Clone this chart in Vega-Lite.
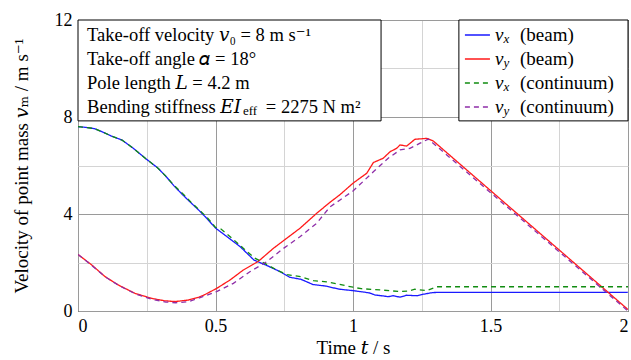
{
  "$schema": "https://vega.github.io/schema/vega-lite/v6.json",
  "width": 550,
  "height": 291,
  "autosize": {"type": "none"},
  "padding": {"left": 78, "top": 20, "right": 3, "bottom": 49},
  "background": "white",
  "config": {
    "font": "Liberation Serif, DejaVu Serif, serif",
    "text": {"font": "Liberation Serif, DejaVu Serif, serif", "color": "black"},
    "view": {"stroke": "black", "strokeWidth": 1},
    "axis": {"labelFont": "Liberation Serif, DejaVu Serif, serif", "titleFont": "Liberation Serif, DejaVu Serif, serif", "labelFontSize": 18, "titleFontSize": 19, "titleFontWeight": "normal", "labelColor": "black", "titleColor": "black", "ticks": false, "domain": false}
  },
  "datasets": {
    "curves": [
      {"t": 0, "v": 7.6, "s": "vx_beam"}, {"t": 0.03, "v": 7.57, "s": "vx_beam"}, {"t": 0.06, "v": 7.52, "s": "vx_beam"}, {"t": 0.09, "v": 7.38, "s": "vx_beam"}, {"t": 0.12, "v": 7.22, "s": "vx_beam"}, {"t": 0.16, "v": 7.05, "s": "vx_beam"}, {"t": 0.2, "v": 6.72, "s": "vx_beam"}, {"t": 0.25, "v": 6.25, "s": "vx_beam"}, {"t": 0.29, "v": 5.9, "s": "vx_beam"}, {"t": 0.32, "v": 5.55, "s": "vx_beam"}, {"t": 0.35, "v": 5.15, "s": "vx_beam"}, {"t": 0.38, "v": 4.8, "s": "vx_beam"}, {"t": 0.41, "v": 4.47, "s": "vx_beam"}, {"t": 0.44, "v": 4.15, "s": "vx_beam"}, {"t": 0.47, "v": 3.8, "s": "vx_beam"}, {"t": 0.5, "v": 3.42, "s": "vx_beam"}, {"t": 0.54, "v": 3.08, "s": "vx_beam"}, {"t": 0.59, "v": 2.65, "s": "vx_beam"}, {"t": 0.64, "v": 2.1, "s": "vx_beam"}, {"t": 0.69, "v": 1.86, "s": "vx_beam"}, {"t": 0.735, "v": 1.62, "s": "vx_beam"}, {"t": 0.77, "v": 1.39, "s": "vx_beam"}, {"t": 0.81, "v": 1.31, "s": "vx_beam"}, {"t": 0.855, "v": 1.09, "s": "vx_beam"}, {"t": 0.9, "v": 1.03, "s": "vx_beam"}, {"t": 0.95, "v": 0.9, "s": "vx_beam"}, {"t": 1.0, "v": 0.84, "s": "vx_beam"}, {"t": 1.04, "v": 0.78, "s": "vx_beam"}, {"t": 1.062, "v": 0.74, "s": "vx_beam"}, {"t": 1.08, "v": 0.66, "s": "vx_beam"}, {"t": 1.11, "v": 0.62, "s": "vx_beam"}, {"t": 1.128, "v": 0.59, "s": "vx_beam"}, {"t": 1.146, "v": 0.63, "s": "vx_beam"}, {"t": 1.171, "v": 0.57, "s": "vx_beam"}, {"t": 1.195, "v": 0.65, "s": "vx_beam"}, {"t": 1.232, "v": 0.63, "s": "vx_beam"}, {"t": 1.26, "v": 0.7, "s": "vx_beam"}, {"t": 1.29, "v": 0.76, "s": "vx_beam"}, {"t": 1.32, "v": 0.77, "s": "vx_beam"}, {"t": 2.0, "v": 0.77, "s": "vx_beam"},
      {"t": 0, "v": 2.33, "s": "vy_beam"}, {"t": 0.05, "v": 1.9, "s": "vy_beam"}, {"t": 0.098, "v": 1.42, "s": "vy_beam"}, {"t": 0.147, "v": 1.07, "s": "vy_beam"}, {"t": 0.207, "v": 0.73, "s": "vy_beam"}, {"t": 0.268, "v": 0.52, "s": "vy_beam"}, {"t": 0.316, "v": 0.42, "s": "vy_beam"}, {"t": 0.353, "v": 0.39, "s": "vy_beam"}, {"t": 0.401, "v": 0.45, "s": "vy_beam"}, {"t": 0.44, "v": 0.57, "s": "vy_beam"}, {"t": 0.462, "v": 0.68, "s": "vy_beam"}, {"t": 0.504, "v": 0.93, "s": "vy_beam"}, {"t": 0.553, "v": 1.28, "s": "vy_beam"}, {"t": 0.601, "v": 1.69, "s": "vy_beam"}, {"t": 0.656, "v": 2.05, "s": "vy_beam"}, {"t": 0.71, "v": 2.58, "s": "vy_beam"}, {"t": 0.759, "v": 3.0, "s": "vy_beam"}, {"t": 0.807, "v": 3.41, "s": "vy_beam"}, {"t": 0.868, "v": 4.03, "s": "vy_beam"}, {"t": 0.916, "v": 4.48, "s": "vy_beam"}, {"t": 0.953, "v": 4.8, "s": "vy_beam"}, {"t": 1.0, "v": 5.27, "s": "vy_beam"}, {"t": 1.05, "v": 5.68, "s": "vy_beam"}, {"t": 1.074, "v": 6.12, "s": "vy_beam"}, {"t": 1.11, "v": 6.3, "s": "vy_beam"}, {"t": 1.135, "v": 6.57, "s": "vy_beam"}, {"t": 1.159, "v": 6.71, "s": "vy_beam"}, {"t": 1.171, "v": 6.85, "s": "vy_beam"}, {"t": 1.195, "v": 6.8, "s": "vy_beam"}, {"t": 1.225, "v": 7.08, "s": "vy_beam"}, {"t": 1.268, "v": 7.12, "s": "vy_beam"}, {"t": 1.292, "v": 7.01, "s": "vy_beam"}, {"t": 2.0, "v": 0.06, "s": "vy_beam"},
      {"t": 0, "v": 7.6, "s": "vx_cont"}, {"t": 0.03, "v": 7.57, "s": "vx_cont"}, {"t": 0.06, "v": 7.52, "s": "vx_cont"}, {"t": 0.09, "v": 7.38, "s": "vx_cont"}, {"t": 0.12, "v": 7.22, "s": "vx_cont"}, {"t": 0.16, "v": 7.05, "s": "vx_cont"}, {"t": 0.2, "v": 6.72, "s": "vx_cont"}, {"t": 0.25, "v": 6.25, "s": "vx_cont"}, {"t": 0.29, "v": 5.9, "s": "vx_cont"}, {"t": 0.32, "v": 5.55, "s": "vx_cont"}, {"t": 0.35, "v": 5.17, "s": "vx_cont"}, {"t": 0.38, "v": 4.85, "s": "vx_cont"}, {"t": 0.41, "v": 4.5, "s": "vx_cont"}, {"t": 0.44, "v": 4.18, "s": "vx_cont"}, {"t": 0.47, "v": 3.85, "s": "vx_cont"}, {"t": 0.5, "v": 3.45, "s": "vx_cont"}, {"t": 0.52, "v": 3.38, "s": "vx_cont"}, {"t": 0.565, "v": 2.95, "s": "vx_cont"}, {"t": 0.6, "v": 2.6, "s": "vx_cont"}, {"t": 0.64, "v": 2.2, "s": "vx_cont"}, {"t": 0.686, "v": 1.92, "s": "vx_cont"}, {"t": 0.723, "v": 1.69, "s": "vx_cont"}, {"t": 0.76, "v": 1.5, "s": "vx_cont"}, {"t": 0.81, "v": 1.42, "s": "vx_cont"}, {"t": 0.856, "v": 1.25, "s": "vx_cont"}, {"t": 0.904, "v": 1.2, "s": "vx_cont"}, {"t": 0.95, "v": 1.1, "s": "vx_cont"}, {"t": 1.0, "v": 0.98, "s": "vx_cont"}, {"t": 1.03, "v": 0.92, "s": "vx_cont"}, {"t": 1.098, "v": 0.87, "s": "vx_cont"}, {"t": 1.171, "v": 0.8, "s": "vx_cont"}, {"t": 1.2, "v": 0.82, "s": "vx_cont"}, {"t": 1.225, "v": 0.9, "s": "vx_cont"}, {"t": 1.268, "v": 0.84, "s": "vx_cont"}, {"t": 1.305, "v": 1.0, "s": "vx_cont"}, {"t": 2.0, "v": 1.0, "s": "vx_cont"},
      {"t": 0, "v": 2.33, "s": "vy_cont"}, {"t": 0.05, "v": 1.88, "s": "vy_cont"}, {"t": 0.1, "v": 1.4, "s": "vy_cont"}, {"t": 0.15, "v": 1.04, "s": "vy_cont"}, {"t": 0.21, "v": 0.7, "s": "vy_cont"}, {"t": 0.27, "v": 0.48, "s": "vy_cont"}, {"t": 0.32, "v": 0.37, "s": "vy_cont"}, {"t": 0.355, "v": 0.34, "s": "vy_cont"}, {"t": 0.4, "v": 0.38, "s": "vy_cont"}, {"t": 0.444, "v": 0.55, "s": "vy_cont"}, {"t": 0.504, "v": 0.8, "s": "vy_cont"}, {"t": 0.565, "v": 1.14, "s": "vy_cont"}, {"t": 0.625, "v": 1.62, "s": "vy_cont"}, {"t": 0.686, "v": 2.03, "s": "vy_cont"}, {"t": 0.747, "v": 2.58, "s": "vy_cont"}, {"t": 0.807, "v": 3.06, "s": "vy_cont"}, {"t": 0.868, "v": 3.62, "s": "vy_cont"}, {"t": 0.916, "v": 4.29, "s": "vy_cont"}, {"t": 0.953, "v": 4.58, "s": "vy_cont"}, {"t": 1.0, "v": 4.95, "s": "vy_cont"}, {"t": 1.074, "v": 5.74, "s": "vy_cont"}, {"t": 1.128, "v": 6.3, "s": "vy_cont"}, {"t": 1.171, "v": 6.64, "s": "vy_cont"}, {"t": 1.207, "v": 6.71, "s": "vy_cont"}, {"t": 1.244, "v": 6.92, "s": "vy_cont"}, {"t": 1.274, "v": 7.09, "s": "vy_cont"}, {"t": 2.0, "v": 0.0, "s": "vy_cont"}
    ],
    "legend": [
      {"s": "vx_beam", "sub": "x", "label": "(beam)", "row": 1},
      {"s": "vy_beam", "sub": "y", "label": "(beam)", "row": 2},
      {"s": "vx_cont", "sub": "x", "label": "(continuum)", "row": 3},
      {"s": "vy_cont", "sub": "y", "label": "(continuum)", "row": 4}
    ]
  },
  "layer": [
    {
      "layer": [
        {
          "data": {"name": "curves"},
          "mark": {"type": "line", "strokeWidth": 1.3, "clip": true},
          "encoding": {
            "x": {"field": "t", "type": "quantitative", "scale": {"domain": [0, 2], "nice": false}, "axis": {"title": "Time 𝑡 / s", "values": [0, 0.25, 0.5, 0.75, 1, 1.25, 1.5, 1.75, 2], "format": "~g", "labelExpr": "datum.value % 0.5 === 0 ? datum.label : ''", "labelPadding": 6, "titlePadding": 3, "grid": true, "gridColor": {"condition": {"test": "datum.value % 0.5 === 0", "value": "#9a9a9a"}, "value": "#d4d4d4"}, "gridWidth": 1}},
            "y": {"field": "v", "type": "quantitative", "scale": {"domain": [0, 12], "nice": false}, "axis": {"title": "Velocity of point mass 𝑣ₘ / m s⁻¹", "values": [0, 2, 4, 6, 8, 10, 12], "labelExpr": "datum.value % 4 === 0 ? datum.label : ''", "labelPadding": 6, "titlePadding": 23, "grid": true, "gridColor": {"condition": {"test": "datum.value % 4 === 0", "value": "#9a9a9a"}, "value": "#d4d4d4"}, "gridWidth": 1}},
            "color": {"field": "s", "type": "nominal", "scale": {"domain": ["vx_beam", "vy_beam", "vx_cont", "vy_cont"], "range": ["#1a1aff", "#ff1a1a", "#118c11", "#8f2ea8"]}, "legend": null},
            "strokeDash": {"field": "s", "type": "nominal", "scale": {"domain": ["vx_beam", "vy_beam", "vx_cont", "vy_cont"], "range": [[1, 0], [1, 0], [5, 4], [5, 4]]}, "legend": null}
          }
        },
        {
          "data": {"values": [{}]},
          "mark": {"type": "rect", "fill": "white", "stroke": "black", "strokeWidth": 1},
          "encoding": {"x": {"datum": 0}, "x2": {"datum": 1.102}, "y": {"datum": 12}, "y2": {"datum": 7.84}}
        },
        {
          "data": {"values": [{}]},
          "mark": {"type": "rect", "fill": "white", "stroke": "black", "strokeWidth": 1},
          "encoding": {"x": {"datum": 1.385}, "x2": {"datum": 2}, "y": {"datum": 12}, "y2": {"datum": 7.84}}
        },
        {
          "data": {"values": [{"text": "Take-off velocity 𝑣₀ = 8 m s⁻¹"}]},
          "mark": {"type": "text", "align": "left", "baseline": "middle", "fontSize": 18.5},
          "encoding": {"x": {"datum": 0.033}, "y": {"datum": 11.38}, "text": {"field": "text"}}
        },
        {
          "data": {"values": [{"text": "Take-off angle 𝛼 = 18°"}]},
          "mark": {"type": "text", "align": "left", "baseline": "middle", "fontSize": 18.5},
          "encoding": {"x": {"datum": 0.033}, "y": {"datum": 10.38}, "text": {"field": "text"}}
        },
        {
          "data": {"values": [{"text": "Pole length 𝐿 = 4.2 m"}]},
          "mark": {"type": "text", "align": "left", "baseline": "middle", "fontSize": 18.5},
          "encoding": {"x": {"datum": 0.033}, "y": {"datum": 9.4}, "text": {"field": "text"}}
        },
        {
          "data": {"values": [{"text": "Bending stiffness 𝐸𝐼"}]},
          "mark": {"type": "text", "align": "left", "baseline": "middle", "fontSize": 18.5},
          "encoding": {"x": {"datum": 0.033}, "y": {"datum": 8.42}, "text": {"field": "text"}}
        },
        {
          "data": {"values": [{"text": "eff"}]},
          "mark": {"type": "text", "align": "left", "baseline": "middle", "fontSize": 13, "dy": 4},
          "encoding": {"x": {"datum": 0.6}, "y": {"datum": 8.42}, "text": {"field": "text"}}
        },
        {
          "data": {"values": [{"text": "= 2275 N m²"}]},
          "mark": {"type": "text", "align": "left", "baseline": "middle", "fontSize": 18.5},
          "encoding": {"x": {"datum": 0.683}, "y": {"datum": 8.42}, "text": {"field": "text"}}
        }
      ]
    },
    {
      "data": {"name": "legend"},
      "layer": [
        {
          "mark": {"type": "rule", "strokeWidth": 1.3},
          "encoding": {
            "x": {"datum": 1.407}, "x2": {"datum": 1.498},
            "y": {"field": "row", "type": "quantitative", "scale": {"domain": [0.375, 12.5], "reverse": true, "nice": false, "zero": false}, "axis": null},
            "color": {"field": "s", "type": "nominal", "scale": {"domain": ["vx_beam", "vy_beam", "vx_cont", "vy_cont"], "range": ["#1a1aff", "#ff1a1a", "#118c11", "#8f2ea8"]}, "legend": null},
            "strokeDash": {"field": "s", "type": "nominal", "scale": {"domain": ["vx_beam", "vy_beam", "vx_cont", "vy_cont"], "range": [[1, 0], [1, 0], [5, 4], [5, 4]]}, "legend": null}
          }
        },
        {
          "mark": {"type": "text", "align": "left", "baseline": "middle", "fontSize": 19, "fontStyle": "italic", "text": "v"},
          "encoding": {"x": {"datum": 1.5164}, "y": {"field": "row", "type": "quantitative", "axis": null}}
        },
        {
          "mark": {"type": "text", "align": "left", "baseline": "middle", "fontSize": 13, "fontStyle": "italic", "dx": 8.5, "dy": 4},
          "encoding": {"x": {"datum": 1.5164}, "y": {"field": "row", "type": "quantitative", "axis": null}, "text": {"field": "sub"}}
        },
        {
          "mark": {"type": "text", "align": "left", "baseline": "middle", "fontSize": 19, "dx": 25},
          "encoding": {"x": {"datum": 1.5164}, "y": {"field": "row", "type": "quantitative", "axis": null}, "text": {"field": "label"}}
        }
      ]
    }
  ],
  "resolve": {"scale": {"y": "independent"}}
}
